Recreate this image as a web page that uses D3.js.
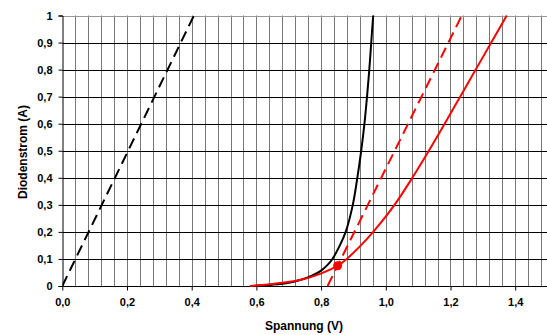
<!DOCTYPE html>
<html>
<head>
<meta charset="utf-8">
<script src="https://cdn.jsdelivr.net/npm/d3@7"></script>
<style>
  html, body { margin: 0; padding: 0; background: #fff; }
  svg text { font-family: "Liberation Sans", Arial, sans-serif; font-weight: bold; fill: #000; }
</style>
</head>
<body>
<div id="chart"></div>
<script>
// values: [Spannung (V), Diodenstrom (A)]
const blackDashed = [[0, 0], [0.407, 1]];
const blackSolid = [
  [0.58, 0], [0.65, 0.005], [0.70, 0.012], [0.74, 0.024], [0.77, 0.037], [0.80, 0.057],
  [0.82, 0.078], [0.835, 0.1], [0.858, 0.15], [0.876, 0.2], [0.898, 0.3], [0.912, 0.4],
  [0.924, 0.5], [0.934, 0.6], [0.942, 0.7], [0.949, 0.8], [0.955, 0.9], [0.961, 1.0]
];
const redSolid = [
  [0.58, 0], [0.62, 0.004], [0.673, 0.011], [0.735, 0.022], [0.797, 0.045], [0.851, 0.075],
  [0.879, 0.1], [0.923, 0.15], [0.961, 0.2], [1.027, 0.3], [1.082, 0.4], [1.133, 0.5],
  [1.182, 0.6], [1.23, 0.7], [1.278, 0.8], [1.326, 0.9], [1.374, 1.0]
];
const redDashed = [[0.82, 0], [1.235, 1]];
const workPoint = [[0.851, 0.075]];

const xTicks = [0, 0.2, 0.4, 0.6, 0.8, 1.0, 1.2, 1.4];
const yTicks = [0, 0.1, 0.2, 0.3, 0.4, 0.5, 0.6, 0.7, 0.8, 0.9, 1];
const xMinor = d3.range(1, 40).map(i => i * 0.04);

const width = 547, height = 335;
const margin = { left: 62.3, top: 15.5, bottom: 286 };

const x = d3.scaleLinear().domain([0, 1.6]).range([margin.left, margin.left + 323.5 * 1.6]);
const y = d3.scaleLinear().domain([0, 1]).range([margin.bottom, margin.top]);

const svg = d3.select('#chart').append('svg')
  .attr('width', width).attr('height', height);

svg.append('clipPath').attr('id', 'plot')
  .append('rect')
  .attr('x', margin.left).attr('y', margin.top - 2)
  .attr('width', width - margin.left).attr('height', margin.bottom - margin.top + 4);

const grid = svg.append('g').attr('clip-path', 'url(#plot)');

grid.selectAll('line.v')
  .data(xMinor)
  .enter().append('line')
  .attr('class', 'v')
  .attr('x1', d => Math.round(x(d)) + 0.5).attr('x2', d => Math.round(x(d)) + 0.5)
  .attr('y1', y(0)).attr('y2', y(1))
  .attr('stroke', '#777').attr('stroke-width', 1);

grid.selectAll('line.h')
  .data(yTicks.filter(d => d > 0))
  .enter().append('line')
  .attr('class', 'h')
  .attr('x1', margin.left).attr('x2', width)
  .attr('y1', d => Math.round(y(d)) + 0.5).attr('y2', d => Math.round(y(d)) + 0.5)
  .attr('stroke', d => d === 1 ? '#999' : '#000').attr('stroke-width', 1);

// axes
const xAxis = d3.axisBottom(x).tickValues(xTicks).tickSize(4).tickPadding(8)
  .tickFormat(d => d3.format('.1f')(d).replace('.', ','));
const gx = svg.append('g').attr('transform', `translate(0,${Math.round(y(0)) + 0.5})`).call(xAxis);
gx.select('.domain').attr('d', `M${margin.left},0H${width}`);

const yAxis = d3.axisLeft(y).tickValues(yTicks).tickSize(4).tickPadding(6)
  .tickFormat(d => String(d).replace('.', ','));
const gy = svg.append('g').attr('transform', `translate(${Math.round(margin.left) + 0.5},0)`).call(yAxis);

[gx, gy].forEach(g => {
  g.selectAll('text').style('font-size', '11px').attr('font-family', null);
  g.selectAll('line, path').attr('stroke', '#000');
});

// curves
const line = d3.line().x(d => x(d[0])).y(d => y(d[1])).curve(d3.curveCatmullRom.alpha(0.5));
const plot = svg.append('g').attr('clip-path', 'url(#plot)');

plot.append('path').datum(blackDashed).attr('d', line)
  .attr('fill', 'none').attr('stroke', '#000').attr('stroke-width', 2).attr('stroke-dasharray', '11,6');
plot.append('path').datum(redDashed).attr('d', line)
  .attr('fill', 'none').attr('stroke', '#f00').attr('stroke-width', 2).attr('stroke-dasharray', '11,6');
plot.append('path').datum(blackSolid).attr('d', line)
  .attr('fill', 'none').attr('stroke', '#000').attr('stroke-width', 2);
plot.append('path').datum(redSolid).attr('d', line)
  .attr('fill', 'none').attr('stroke', '#f00').attr('stroke-width', 2);
plot.selectAll('circle').data(workPoint).enter().append('circle')
  .attr('cx', d => x(d[0])).attr('cy', d => y(d[1])).attr('r', 4.5).attr('fill', '#f00');

// axis titles
svg.append('text').attr('x', 304).attr('y', 330).attr('text-anchor', 'middle')
  .style('font-size', '12px').text('Spannung (V)');
svg.append('text').attr('transform', 'translate(27,152) rotate(-90)').attr('text-anchor', 'middle')
  .style('font-size', '12px').text('Diodenstrom (A)');
</script>
</body>
</html>
